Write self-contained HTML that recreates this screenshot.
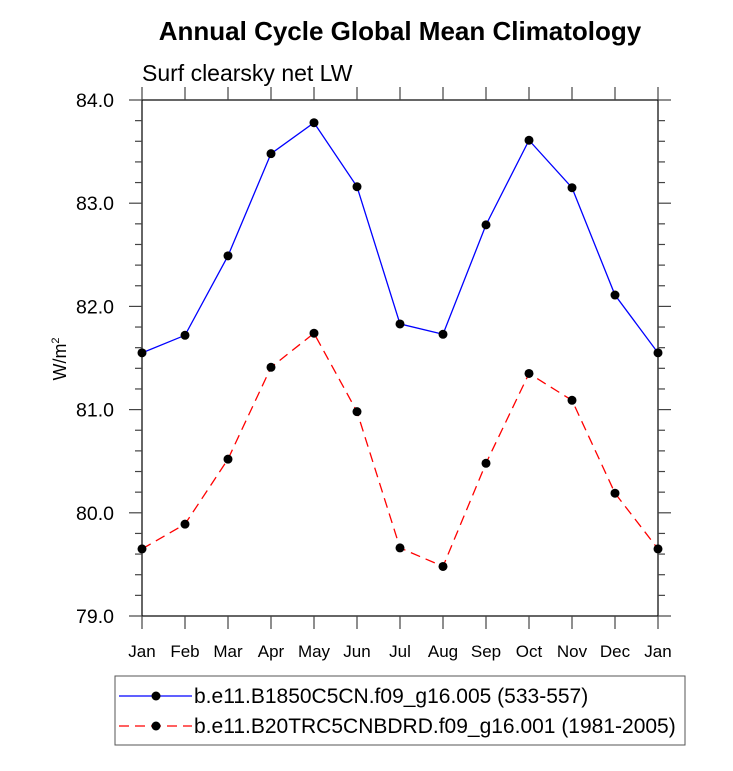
<!DOCTYPE html>
<html><head><meta charset="utf-8"><style>
body{margin:0;background:#fff;}
text{font-family:"Liberation Sans",sans-serif;}
</style></head><body>
<svg id="c" width="733" height="766" viewBox="0 0 733 766" xmlns="http://www.w3.org/2000/svg">
<text x="400" y="40" text-anchor="middle" font-size="26" font-weight="bold">Annual Cycle Global Mean Climatology</text>
<text x="142" y="81" font-size="23">Surf clearsky net LW</text>
<text transform="translate(66,359) rotate(-90)" text-anchor="middle" font-size="18">W/m<tspan font-size="11" dy="-7">2</tspan></text>
<g id="axes"></g>
<g id="series"></g>
<g>
<rect x="115" y="676" width="570" height="69" fill="none" stroke="#555" stroke-width="1"/>
<line x1="119" y1="696" x2="192" y2="696" stroke="#0000ff" stroke-width="1.3"/>
<circle cx="156" cy="696" r="4.5" fill="#000"/>
<text x="194" y="703" font-size="21">b.e11.B1850C5CN.f09_g16.005 (533-557)</text>
<line x1="119" y1="726" x2="192" y2="726" stroke="#ff0000" stroke-width="1.3" stroke-dasharray="10,6"/>
<circle cx="156" cy="726" r="4.5" fill="#000"/>
<text x="194" y="733" font-size="21">b.e11.B20TRC5CNBDRD.f09_g16.001 (1981-2005)</text>
</g>
</svg>
<script>
const months=["Jan","Feb","Mar","Apr","May","Jun","Jul","Aug","Sep","Oct","Nov","Dec","Jan"];
const yTicks=[79,80,81,82,83,84];
const yTickLabels=["79.0","80.0","81.0","82.0","83.0","84.0"];
const blueVals=[81.55,81.72,82.49,83.48,83.78,83.16,81.83,81.73,82.79,83.61,83.15,82.11,81.55];
const redVals=[79.65,79.89,80.52,81.41,81.74,80.98,79.66,79.48,80.48,81.35,81.09,80.19,79.65];
const L=142,R=658,T=100,B=616,ymin=79,ymax=84;
const NS="http://www.w3.org/2000/svg";
function xs(i){return L+(R-L)*i/(months.length-1);}
function ys(v){return B-(B-T)*(v-ymin)/(ymax-ymin);}
function mk(tag,attrs,parent){const e=document.createElementNS(NS,tag);for(const k in attrs)e.setAttribute(k,attrs[k]);parent.appendChild(e);return e;}
const ax=document.getElementById('axes');
const frame=mk('rect',{x:L,y:T,width:R-L,height:B-T,fill:'none',stroke:'#000','stroke-width':1.2},ax);


months.forEach((m,i)=>{
  const x=xs(i);
  mk('line',{x1:x,y1:B,x2:x,y2:B+13,stroke:'#444','stroke-width':1.2},ax);
  mk('line',{x1:x,y1:T,x2:x,y2:T-13,stroke:'#444','stroke-width':1.2},ax);
  const t=mk('text',{x:x,y:B+41,'text-anchor':'middle','font-size':17},ax);
  t.textContent=m;
  
  
});
for(let v=ymin;v<=ymax+1e-9;v+=0.2){
  const y=ys(v);const major=Math.abs(v-Math.round(v))<1e-6;
  const len=major?13:7;
  mk('line',{x1:L-len,y1:y,x2:L,y2:y,stroke:'#444','stroke-width':1.2},ax);
  mk('line',{x1:R,y1:y,x2:R+len,y2:y,stroke:'#444','stroke-width':1.2},ax);
}
yTicks.forEach((v,i)=>{
  const t=mk('text',{x:114,y:ys(v)+7,'text-anchor':'end','font-size':19.5},ax);
  t.textContent=yTickLabels[i];
  
  
});
const sg=document.getElementById('series');
function drawSeries(vals,color,dash,name){
  const g=mk('g',{},sg);
  
  
  const pts=vals.map((v,i)=>xs(i)+','+ys(v)).join(' ');
  const a={points:pts,fill:'none',stroke:color,'stroke-width':1.3};
  if(dash)a['stroke-dasharray']=dash;
  mk('polyline',a,g);
  vals.forEach((v,i)=>{
    const c=mk('circle',{cx:xs(i),cy:ys(v),r:4.5,fill:'#000'},g);
    
    
  });
}
drawSeries(blueVals,'#0000ff',null,'series-b1850');
drawSeries(redVals,'#ff0000','10,6','series-b20trc');
</script>
</body></html>
